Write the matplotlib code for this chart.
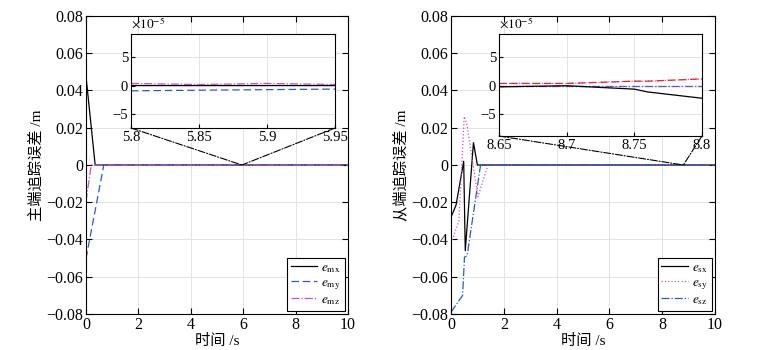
import numpy as np
import matplotlib
matplotlib.use("Agg")
import matplotlib.pyplot as plt
from matplotlib.patches import ConnectionPatch
from matplotlib.ticker import FuncFormatter

plt.rcParams['font.family'] = ['Liberation Serif', 'Noto Sans CJK SC']
plt.rcParams['mathtext.fontset'] = 'stix'
plt.rcParams['axes.unicode_minus'] = True

# master side errors (m)
t_mx = [0, 0.35, 10]
e_mx = [0.0477, 0, 0]
t_my = [0, 0.68, 10]
e_my = [-0.0503, 0, 0]
t_mz = [0, 0.2, 10]
e_mz = [-0.0195, 0, 0]

# slave side errors (m)
t_sx = [0, 0.19, 0.48, 0.54, 0.85, 1.0, 10]
e_sx = [-0.028, -0.0216, 0.002, -0.046, 0.012, 0, 0]
t_sy = [0, 0.3, 0.5, 0.6, 1.02, 1.4, 10]
e_sy = [-0.042, -0.03, 0.026, 0.022, -0.017, 0, 0]
t_sz = [0, 0.44, 0.51, 0.61, 1.12, 10]
e_sz = [-0.079, -0.07, -0.0495, -0.0487, 0, 0]

# zoomed windows, values in 1e-5 m
ti_m = [5.8, 5.85, 5.9, 5.95]
zi_mx = [0.2, 0.2, 0.2, 0.2]
zi_my = [-0.9, -0.8, -0.7, -0.6]
zi_mz = [0.4, 0.2, 0.4, 0.2]
ti_s = [8.65, 8.7, 8.75, 8.76, 8.8]
zi_sx = [-0.2, 0.0, -0.6, -1.1, -2.2]
zi_sy = [0.4, 0.4, 0.8, 0.8, 1.2]
zi_sz = [0.0, 0.0, 0.0, 0.0, 0.0]

blue = '#2a5bc4'
mag = '#c452c4'
red = '#e02828'

fmt = FuncFormatter(lambda v, p: ('%g' % round(v, 4)).replace('-', '\u2212'))


def style_main(ax, ylab):
    ax.set_xlim(0, 10)
    ax.set_ylim(-0.08, 0.08)
    ax.set_xticks([0, 2, 4, 6, 8, 10])
    ax.set_yticks(np.arange(-0.08, 0.081, 0.02))
    ax.yaxis.set_major_formatter(fmt)
    ax.grid(True, color='#e3e3e3', lw=0.7)
    ax.set_axisbelow(True)
    ax.tick_params(direction='in', top=True, right=True, length=4, labelsize=11.5, pad=2)
    ax.set_xlabel('时间 /s', fontsize=11, labelpad=1)
    ax.set_ylabel(ylab, fontsize=11, labelpad=2)
    for s in ax.spines.values():
        s.set_linewidth(0.8)


def style_inset(ax, xt, xl):
    ax.set_xlim(xt[0], xt[-1])
    ax.set_xticks(xt)
    ax.set_xticklabels(xl)
    ax.set_yticks([-5, 0, 5])
    ax.yaxis.set_major_formatter(fmt)
    ax.grid(True, color='#e3e3e3', lw=0.7)
    ax.tick_params(direction='in', length=3, labelsize=10.5, pad=2)
    ax.text(0, 1.02, r'$\times10^{-5}$', transform=ax.transAxes, fontsize=9.5, va='bottom')
    for s in ax.spines.values():
        s.set_linewidth(0.8)


fig = plt.figure(figsize=(7.63, 3.5), dpi=100)
ax1 = fig.add_axes([0.1127, 0.1029, 0.3434, 0.8514])
ax2 = fig.add_axes([0.5911, 0.1029, 0.3460, 0.8514])

ax1.plot(t_mx, e_mx, color='k', lw=0.9, label=r'$e_{\rm mx}$')
ax1.plot(t_my, e_my, color=blue, lw=0.9, ls=(0, (6, 3)), label=r'$e_{\rm my}$')
ax1.plot(t_mz, e_mz, color=mag, lw=0.9, ls='-.', label=r'$e_{\rm mz}$')
style_main(ax1, '主端追踪误差 /m')

ax2.plot(t_sx, e_sx, color='k', lw=0.9, label=r'$e_{\rm sx}$')
ax2.plot(t_sy, e_sy, color=mag, lw=0.9, ls=':', label=r'$e_{\rm sy}$')
ax2.plot(t_sz, e_sz, color=blue, lw=0.9, ls='-.', label=r'$e_{\rm sz}$')
style_main(ax2, '从端追踪误差 /m')

for ax in (ax1, ax2):
    leg = ax.legend(loc='lower right', fontsize=9.5, handlelength=2.0, labelspacing=0.15,
                    borderaxespad=0.25, borderpad=0.3, handletextpad=0.3,
                    fancybox=False, framealpha=1, edgecolor='k')
    leg.get_frame().set_linewidth(0.8)

in1 = fig.add_axes([0.1717, 0.6343, 0.2674, 0.2686])
in1.plot(ti_m, zi_mx, color='k', lw=0.9)
in1.plot(ti_m, zi_my, color=blue, lw=0.9, ls=(0, (6, 3)))
in1.plot(ti_m, zi_mz, color=mag, lw=0.9, ls='-.')
in1.set_ylim(-7.45, 9.1)
style_inset(in1, [5.8, 5.85, 5.9, 5.95], ['5.8', '5.85', '5.9', '5.95'])

in2 = fig.add_axes([0.6540, 0.6114, 0.2660, 0.2914])
in2.plot(ti_s, zi_sz, color=blue, lw=0.9, ls='-.')
in2.plot(ti_s, zi_sy, color=mag, lw=0.9, ls=':')
in2.plot(ti_s, zi_sy, color=red, lw=0.9, ls=(0, (6, 3)))
in2.plot(ti_s, [0] * len(ti_s), color=mag, lw=0.9, ls=':')
in2.plot(ti_s, zi_sx, color='k', lw=0.9)
in2.set_ylim(-8.85, 9.1)
style_inset(in2, [8.65, 8.7, 8.75, 8.8], ['8.65', '8.7', '8.75', '8.8'])

for ins, ax, xe in ((in1, ax1, 5.95), (in2, ax2, 8.8)):
    for cx in (0, 1):
        cp = ConnectionPatch(xyA=(cx, 0), coordsA=ins.transAxes, xyB=(xe, 0), coordsB=ax.transData,
                             color='k', lw=0.8, ls='-.')
        fig.add_artist(cp)

fig.savefig('out.png', dpi=100)
